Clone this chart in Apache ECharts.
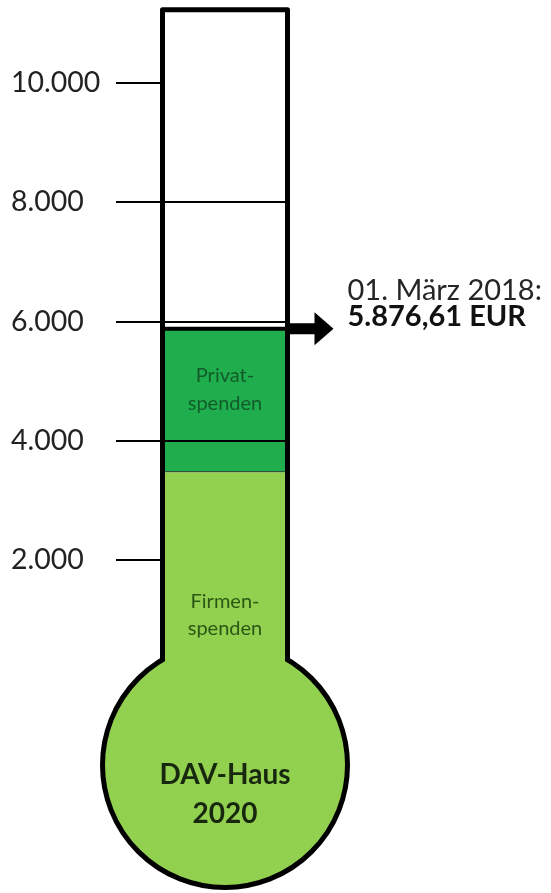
<!DOCTYPE html>
<html>
<head>
<meta charset="utf-8">
<script src="https://cdn.jsdelivr.net/npm/echarts@6/dist/echarts.min.js"></script>
<style>
  html, body { margin: 0; padding: 0; background: #fff; }
  #thermo { width: 551px; height: 893px; }
</style>
</head>
<body>
<div id="thermo"></div>
<script>
// Spendenstand DAV-Haus 2020
const categories = ["DAV-Haus 2020"];
const firmenspenden = [3470];
const privatspenden = [2406.61];
const tickValues = [2000, 4000, 6000, 8000, 10000];
const yMax = 11230;
const segmentLabels = ["Firmen-\nspenden", "Privat-\nspenden"];
const dateLabel = "01. März 2018:";
const bulbLabel = ["DAV-Haus", "2020"];

const total = firmenspenden[0] + privatspenden[0];

// deutsche Zahlenformatierung: 5.876,61
function de(v, digits) {
  const parts = v.toFixed(digits).split(".");
  const int = parts[0].replace(/\B(?=(\d{3})+(?!\d))/g, ".");
  return parts[1] ? int + "," + parts[1] : int;
}

const chart = echarts.init(document.getElementById("thermo"));

function renderThermo(params, api) {
  const cat = api.value(0);
  const base = api.coord([cat, 0]);
  const half = api.size([1, 0])[0] / 2;
  const L = base[0] - half + 2.5;
  const R = base[0] + half - 2.5;
  const yTop = api.coord([cat, yMax])[1];
  const yFill = api.coord([cat, api.value(1)])[1];
  const r = 122.5;
  const cy = base[1] + 86;
  const joinY = cy - Math.sqrt(r * r - (half - 2.5) * (half - 2.5));
  const x0 = R;
  return {
    type: "group",
    children: [
      {
        type: "circle",
        shape: { cx: base[0], cy: cy, r: r },
        style: { fill: "#92d050", stroke: "#000", lineWidth: 5 }
      },
      {
        type: "rect",
        shape: { x: L + 2.5, y: cy - r - 5, width: R - L - 5, height: joinY - (cy - r - 5) + 3 },
        style: { fill: "#92d050" }
      },
      {
        type: "polyline",
        shape: { points: [[L, joinY], [L, yTop], [R, yTop], [R, joinY]] },
        style: { stroke: "#000", lineWidth: 5, fill: null, lineJoin: "round" }
      },
      {
        type: "line",
        shape: { x1: L, y1: yFill, x2: R, y2: yFill },
        style: { stroke: "#000", lineWidth: 4 }
      },
      {
        type: "polygon",
        shape: {
          points: [
            [x0, yFill - 5.5], [x0 + 27, yFill - 5.5], [x0 + 27, yFill - 16.5],
            [x0 + 46, yFill], [x0 + 27, yFill + 16.5], [x0 + 27, yFill + 5.5], [x0, yFill + 5.5]
          ]
        },
        style: { fill: "#000" }
      },
      {
        type: "text",
        style: {
          text: dateLabel, x: x0 + 60, y: yFill - 38,
          textAlign: "left", textVerticalAlign: "middle",
          font: "29px Lato", fill: "#262626"
        }
      },
      {
        type: "text",
        style: {
          text: de(api.value(1), 2) + " EUR", x: x0 + 60, y: yFill - 12,
          textAlign: "left", textVerticalAlign: "middle",
          font: "bold 29px Lato", fill: "#111"
        }
      },
      {
        type: "text",
        style: {
          text: bulbLabel[0], x: base[0], y: cy + 10,
          textAlign: "center", textVerticalAlign: "middle",
          font: "bold 28px Lato", fill: "#18280e"
        }
      },
      {
        type: "text",
        style: {
          text: bulbLabel[1], x: base[0], y: cy + 49,
          textAlign: "center", textVerticalAlign: "middle",
          font: "bold 28px Lato", fill: "#18280e"
        }
      }
    ]
  };
}

const option = {
  animation: false,
  grid: { left: 160, right: 261, top: 9.7, bottom: 214 },
  xAxis: { type: "category", data: categories, show: false },
  yAxis: {
    type: "value",
    min: 0,
    max: yMax,
    interval: 2000,
    z: 3,
    axisLine: { show: false },
    axisTick: {
      show: true,
      customValues: tickValues,
      length: 44,
      lineStyle: { color: "#000", width: 2 }
    },
    axisLabel: {
      customValues: tickValues,
      align: "left",
      margin: 149,
      fontFamily: "Lato",
      fontSize: 28.5,
      color: "#222",
      formatter: (v) => de(v, 0)
    },
    splitLine: {
      showMinLine: false,
      showMaxLine: false,
      lineStyle: { color: "#000", width: 2 }
    }
  },
  series: [
    {
      name: "Firmenspenden",
      type: "bar",
      stack: "spenden",
      barWidth: "100%",
      silent: true,
      data: firmenspenden,
      itemStyle: { color: "#92d050" },
      label: {
        show: true,
        position: "inside",
        offset: [0, 39],
        formatter: segmentLabels[0],
        fontFamily: "Lato",
        fontSize: 20,
        lineHeight: 27,
        color: "#2b5714"
      }
    },
    {
      name: "Privatspenden",
      type: "bar",
      stack: "spenden",
      barWidth: "100%",
      silent: true,
      data: privatspenden,
      itemStyle: { color: "#20ad4e", borderColor: "#2a3a2a", borderWidth: 1 },
      label: {
        show: true,
        position: "inside",
        offset: [0, -11],
        formatter: segmentLabels[1],
        fontFamily: "Lato",
        fontSize: 20,
        lineHeight: 28,
        color: "#125c28"
      }
    },
    {
      type: "custom",
      z: 5,
      silent: true,
      data: [[0, total]],
      renderItem: renderThermo
    }
  ]
};

option && chart.setOption(option);
</script>
</body>
</html>
